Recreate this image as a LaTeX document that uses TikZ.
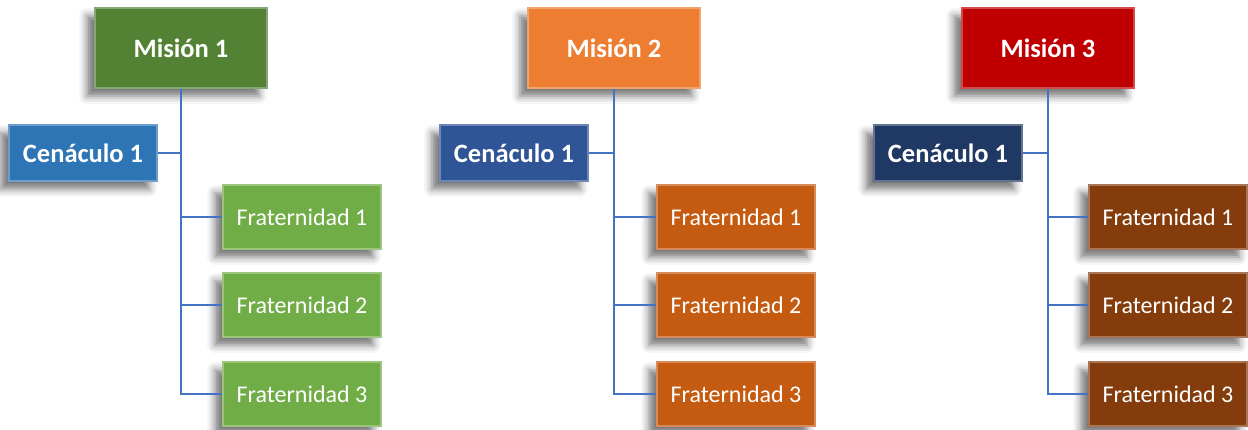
\documentclass[tikz,border=0pt]{standalone}
\usepackage{fontspec}
\setmainfont{Carlito}
\usetikzlibrary{shadows.blur}

\begin{document}
\begin{tikzpicture}[
        x=1pt,
        y=-1pt,
        box/.style={
            rectangle,
            fill=#1,
            draw=#1!70!white,
            line width=1.2pt,
            text=white,
            inner sep=0pt,
            blur shadow={shadow xshift=-8pt, shadow yshift=-8pt,
              shadow blur radius=8pt, shadow opacity=55}
          },
        mision/.style={box=#1, minimum width=172pt, minimum height=80pt,
            font=\fontsize{26.5}{30}\selectfont\bfseries},
        cenaculo/.style={box=#1, minimum width=148pt, minimum height=56pt,
            font=\fontsize{26.5}{30}\selectfont\bfseries},
        frater/.style={box=#1, minimum width=158pt, minimum height=64pt,
            font=\fontsize{24}{28}\selectfont},
        conn/.style={draw=linkblue, line width=2pt}]
        % Define colors
        \definecolor{linkblue}{HTML}{4472C4}
        \definecolor{greenA}{HTML}{548235}  % mision 1
        \definecolor{greenB}{HTML}{70AD47}  % fraternidades 1
        \definecolor{blueA}{HTML}{2E75B6}   % cenaculo 1
        \definecolor{orangeA}{HTML}{ED7D31} % mision 2
        \definecolor{orangeB}{HTML}{C55A11} % fraternidades 2
        \definecolor{blueB}{HTML}{2F5597}   % cenaculo 2
        \definecolor{redA}{HTML}{C00000}    % mision 3
        \definecolor{brownB}{HTML}{843C0C}  % fraternidades 3
        \definecolor{blueC}{HTML}{203864}   % cenaculo 3

        \useasboundingbox (0,0) rectangle (1248,430);

        % Mision 1
        \node[mision=greenA] (m1) at (181,48) {Misión 1};
        \node[cenaculo=blueA] (c1) at (83,153) {Cenáculo 1};
        \node[frater=greenB] (f11) at (302,217) {Fraternidad 1};
        \node[frater=greenB] (f12) at (302,305) {Fraternidad 2};
        \node[frater=greenB] (f13) at (302,394) {Fraternidad 3};

        % Mision 2
        \node[mision=orangeA] (m2) at (614,48) {Misión 2};
        \node[cenaculo=blueB] (c2) at (514,153) {Cenáculo 1};
        \node[frater=orangeB] (f21) at (736,217) {Fraternidad 1};
        \node[frater=orangeB] (f22) at (736,305) {Fraternidad 2};
        \node[frater=orangeB] (f23) at (736,394) {Fraternidad 3};

        % Mision 3
        \node[mision=redA] (m3) at (1048,48) {Misión 3};
        \node[cenaculo=blueC] (c3) at (948,153) {Cenáculo 1};
        \node[frater=brownB] (f31) at (1168,217) {Fraternidad 1};
        \node[frater=brownB] (f32) at (1168,305) {Fraternidad 2};
        \node[frater=brownB] (f33) at (1168,394) {Fraternidad 3};

        % Connectors
        \draw[conn] (m1.south) |- (c1.east);
        \draw[conn] (m1.south) |- (f11.west);
        \draw[conn] (m1.south) |- (f12.west);
        \draw[conn] (m1.south) |- (f13.west);

        \draw[conn] (m2.south) |- (c2.east);
        \draw[conn] (m2.south) |- (f21.west);
        \draw[conn] (m2.south) |- (f22.west);
        \draw[conn] (m2.south) |- (f23.west);

        \draw[conn] (m3.south) |- (c3.east);
        \draw[conn] (m3.south) |- (f31.west);
        \draw[conn] (m3.south) |- (f32.west);
        \draw[conn] (m3.south) |- (f33.west);
    \end{tikzpicture}
\end{document}
